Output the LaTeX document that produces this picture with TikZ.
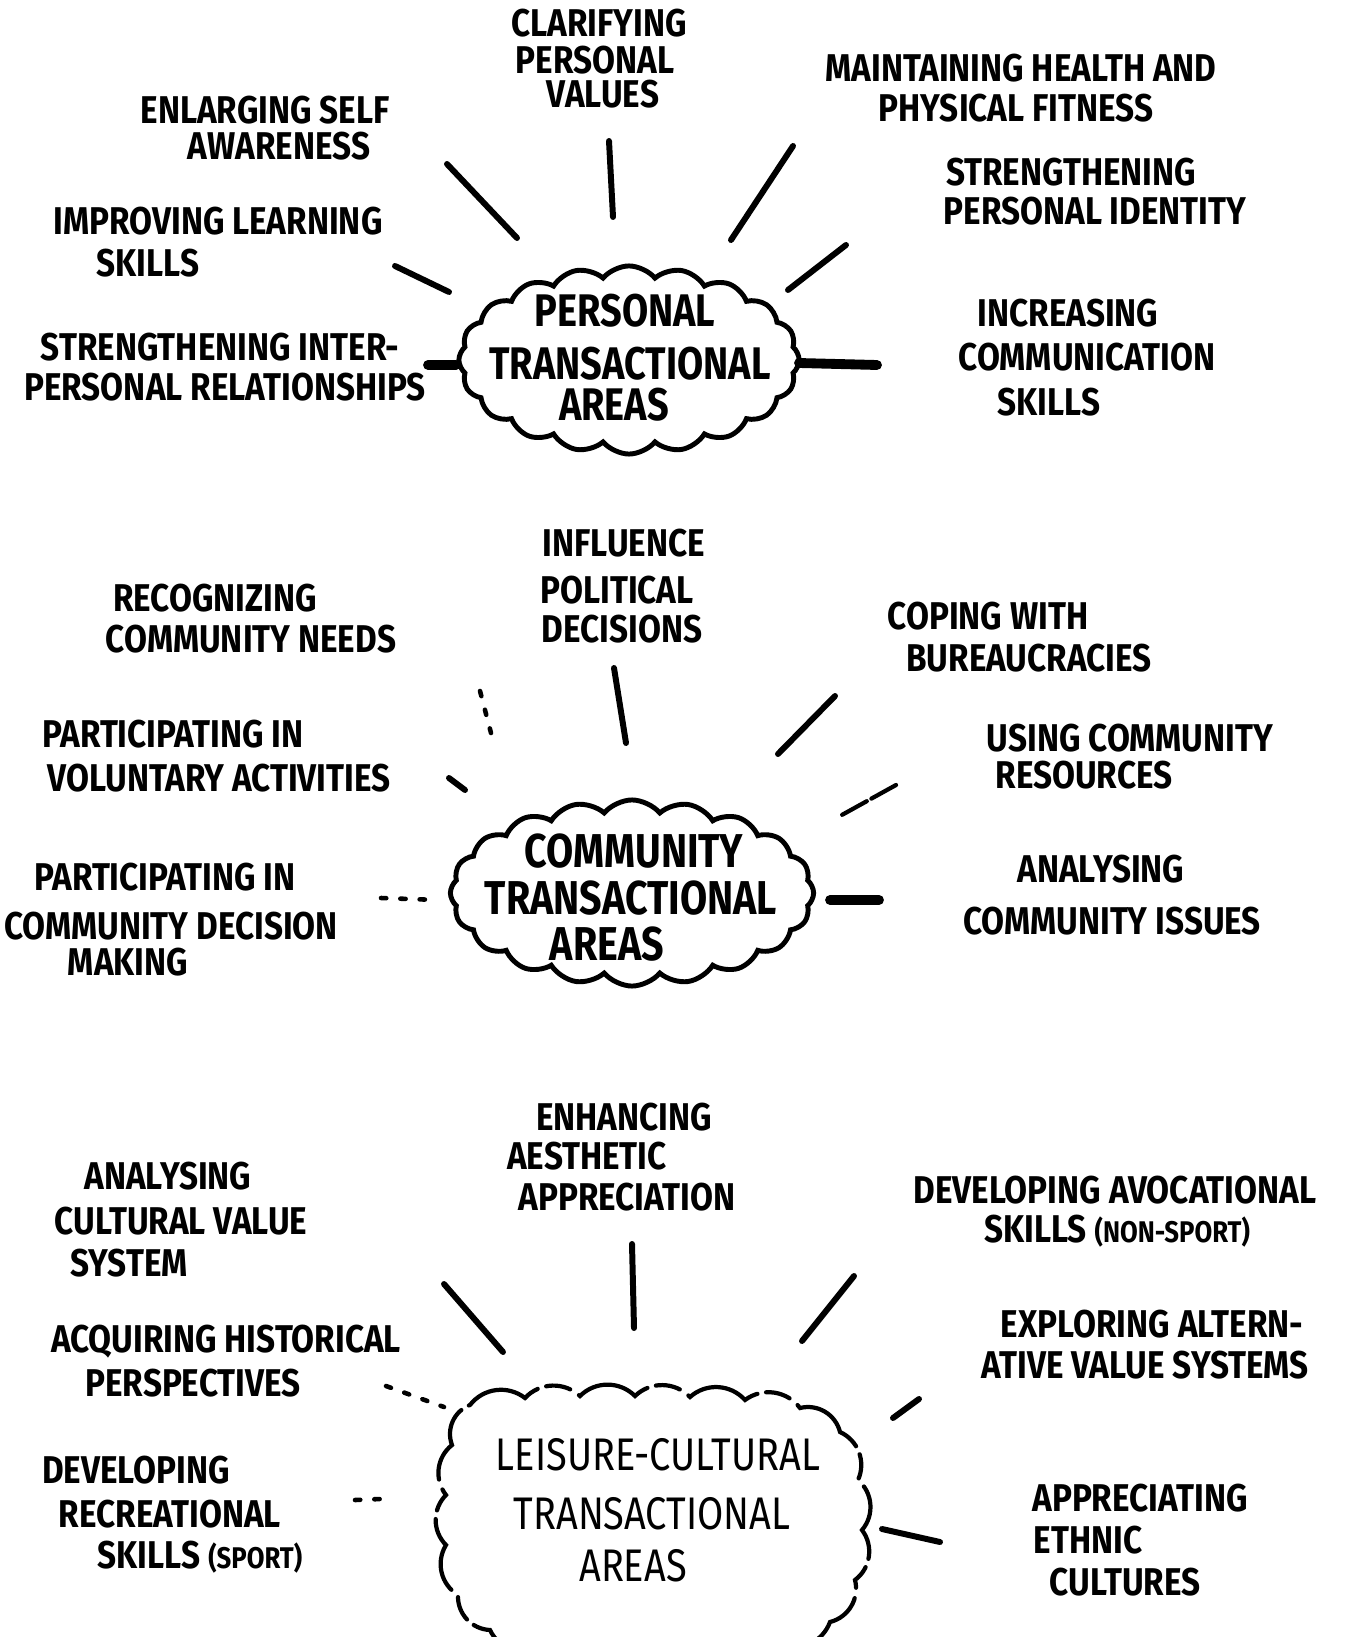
\documentclass[tikz,border=0pt]{standalone}
\usepackage{fontspec}
\setmainfont{Fira Sans}
\newfontfamily\hand[FakeStretch=0.86]{Fira Sans}
\newfontfamily\handc[FakeStretch=0.83]{Fira Sans}
\usetikzlibrary{shapes.symbols}
\begin{document}
\begin{tikzpicture}[x=0.01cm,y=-0.01cm,
 lbl/.style={inner sep=0pt, text height=7.5pt, text depth=0pt, font=\hand\bfseries\fontsize{11}{13}\selectfont},
 ctext/.style={inner sep=0pt, text height=9pt, text depth=0pt, font=\handc\bfseries\fontsize{13}{15}\selectfont},
 ctextb/.style={inner sep=0pt, text height=9.2pt, text depth=0pt, font=\handc\bfseries\fontsize{13.5}{15}\selectfont},
 cthin/.style={inner sep=0pt, text height=9pt, text depth=0pt, font=\handc\fontsize{13}{15}\selectfont},
 puff/.style={cloud, cloud puffs=20, cloud puff arc=100, cloud ignores aspect, draw, line width=1.4pt, inner sep=0pt},
 brokencloud/.style={line width=1.2pt, line cap=round, dash pattern=on 22pt off 2.5pt on 7pt off 3pt},
 bump/.style={bend left=45},
 ray/.style={line width=1.7pt, line cap=round},
 heavy/.style={line width=2.8pt, line cap=round},
 faint/.style={line width=1.3pt, line cap=round, dash pattern=on 1.5pt off 4pt}]
\useasboundingbox (0,0) rectangle (1355,1637);

% ---------- clouds ----------
\node[puff, minimum width=3.40cm, minimum height=1.88cm] (cl1) at (629,360) {};
\node[puff, minimum width=3.63cm, minimum height=1.86cm] (cl2) at (632,893) {};
\coordinate (cl3) at (655,1525);
\draw[brokencloud] (470,1405) to[bump] (525,1398) to[bump] (580,1396) to[bump] (635,1396)
  to[bump] (690,1397) to[bump] (745,1400) to[bump] (800,1408) to[bump] (840,1432)
  to[bump] (858,1480) to[bump] (862,1530) to[bump] (855,1580) to[bump] (830,1622)
  to[bump] (780,1645) to[bump] (720,1655) to[bump] (660,1658) to[bump] (600,1655)
  to[bump] (540,1648) to[bump] (490,1630) to[bump] (458,1595) to[bump] (446,1545)
  to[bump] (446,1495) to[bump] (452,1445) to[bump] (470,1405);

\node[ctext] (t1a) at (625,311) {PERSONAL};
\node[ctext] (t1b) at (630,364) {TRANSACTIONAL};
\node[ctext] (t1c) at (614,405) {AREAS};

\node[ctextb] (t2a) at (634,851) {COMMUNITY};
\node[ctextb] (t2b) at (631,898) {TRANSACTIONAL};
\node[ctextb] (t2c) at (607,944) {AREAS};

\node[cthin] (t3a) at (658,1455) {LEISURE-CULTURAL};
\node[cthin] (t3b) at (652,1514) {TRANSACTIONAL};
\node[cthin] (t3c) at (633,1566) {AREAS};

% ---------- personal labels ----------
\node[lbl] (p1a) at (599,23) {CLARIFYING};
\node[lbl] (p1b) at (595,60) {PERSONAL};
\node[lbl] (p1c) at (603,94) {VALUES};
\node[lbl] (p2a) at (265,110) {ENLARGING SELF};
\node[lbl] (p2b) at (279,146) {AWARENESS};
\node[lbl] (p3a) at (1021,68) {MAINTAINING HEALTH AND};
\node[lbl] (p3b) at (1016,108) {PHYSICAL FITNESS};
\node[lbl] (p4a) at (1071,172) {STRENGTHENING};
\node[lbl] (p4b) at (1095,211) {PERSONAL IDENTITY};
\node[lbl] (p5a) at (218,221) {IMPROVING LEARNING};
\node[lbl] (p5b) at (148,263) {SKILLS};
\node[lbl] (p6a) at (220,347) {STRENGTHENING INTER-};
\node[lbl] (p6b) at (225,387) {PERSONAL RELATIONSHIPS};
\node[lbl] (p7a) at (1068,313) {INCREASING};
\node[lbl] (p7b) at (1087,357) {COMMUNICATION};
\node[lbl] (p7c) at (1049,402) {SKILLS};

% ---------- community labels ----------
\node[lbl] (c1a) at (624,543) {INFLUENCE};
\node[lbl] (c1b) at (617,590) {POLITICAL};
\node[lbl] (c1c) at (622,629) {DECISIONS};
\node[lbl] (c2a) at (215,598) {RECOGNIZING};
\node[lbl] (c2b) at (251,639) {COMMUNITY NEEDS};
\node[lbl] (c3a) at (173,734) {PARTICIPATING IN};
\node[lbl] (c3b) at (219,778) {VOLUNTARY ACTIVITIES};
\node[lbl] (c4a) at (165,877) {PARTICIPATING IN};
\node[lbl] (c4b) at (171,926) {COMMUNITY DECISION};
\node[lbl] (c4c) at (128,962) {MAKING};
\node[lbl] (c5a) at (988,616) {COPING WITH};
\node[lbl] (c5b) at (1029,658) {BUREAUCRACIES};
\node[lbl] (c6a) at (1130,738) {USING COMMUNITY};
\node[lbl] (c6b) at (1084,775) {RESOURCES};
\node[lbl] (c7a) at (1101,869) {ANALYSING};
\node[lbl] (c7b) at (1112,921) {COMMUNITY ISSUES};

% ---------- leisure-cultural labels ----------
\node[lbl] (l1a) at (624,1117) {ENHANCING};
\node[lbl] (l1b) at (587,1156) {AESTHETIC};
\node[lbl] (l1c) at (627,1197) {APPRECIATION};
\node[lbl] (l2a) at (168,1176) {ANALYSING};
\node[lbl] (l2b) at (181,1221) {CULTURAL VALUE};
\node[lbl] (l2c) at (129,1263) {SYSTEM};
\node[lbl] (l3a) at (226,1339) {ACQUIRING HISTORICAL};
\node[lbl] (l3b) at (193,1383) {PERSPECTIVES};
\node[lbl] (l4a) at (136,1470) {DEVELOPING};
\node[lbl] (l4b) at (170,1514) {RECREATIONAL};
\node[lbl] (l4c) at (200,1555) {SKILLS {\fontsize{8.5}{10}\selectfont(SPORT)}};
\node[lbl] (l5a) at (1115,1190) {DEVELOPING AVOCATIONAL};
\node[lbl] (l5b) at (1117,1229) {SKILLS {\fontsize{8.5}{10}\selectfont(NON-SPORT)}};
\node[lbl] (l6a) at (1152,1324) {EXPLORING ALTERN-};
\node[lbl] (l6b) at (1145,1365) {ATIVE VALUE SYSTEMS};
\node[lbl] (l7a) at (1140,1498) {APPRECIATING};
\node[lbl] (l7b) at (1088,1540) {ETHNIC};
\node[lbl] (l7c) at (1125,1582) {CULTURES};

% ---------- connector end points ----------
\coordinate (r1s) at (447,164);  \coordinate (r1e) at (517,238);
\coordinate (r2s) at (609,141);  \coordinate (r2e) at (613,217);
\coordinate (r3s) at (793,146);  \coordinate (r3e) at (731,240);
\coordinate (r4s) at (846,245);  \coordinate (r4e) at (788,290);
\coordinate (r5s) at (395,266);  \coordinate (r5e) at (449,292);
\coordinate (r6s) at (428,365);  \coordinate (r6e) at (456,365);
\coordinate (r7s) at (877,365);  \coordinate (r7e) at (799,363);

\coordinate (m1s) at (614,668);  \coordinate (m1e) at (626,743);
\coordinate (m2s) at (480,691);  \coordinate (m2e) at (491,733);
\coordinate (m3s) at (449,778);  \coordinate (m3e) at (465,790);
\coordinate (m4s) at (835,696);  \coordinate (m4e) at (778,754);
\coordinate (m5s) at (896,785);  \coordinate (m5e) at (840,816);
\coordinate (m6s) at (381,898);  \coordinate (m6e) at (438,900);
\coordinate (m7s) at (879,900);  \coordinate (m7e) at (830,900);

\coordinate (b1s) at (444,1284); \coordinate (b1e) at (503,1352);
\coordinate (b2s) at (632,1244); \coordinate (b2e) at (634,1328);
\coordinate (b3s) at (854,1276); \coordinate (b3e) at (802,1341);
\coordinate (b4s) at (919,1399); \coordinate (b4e) at (893,1418);
\coordinate (b5s) at (386,1386); \coordinate (b5e) at (444,1407);
\coordinate (b6s) at (355,1500); \coordinate (b6e) at (381,1499);
\coordinate (b7s) at (940,1542); \coordinate (b7e) at (882,1529);

% ---------- connectors ----------
\draw[ray] (r1s) -- (r1e);
\draw[ray] (r2s) -- (r2e);
\draw[ray] (r3s) -- (r3e);
\draw[ray] (r4s) -- (r4e);
\draw[ray] (r5s) -- (r5e);
\draw[heavy] (r6s) -- (r6e);
\draw[heavy] (r7s) -- (r7e);

\draw[ray] (m1s) -- (m1e);
\draw[faint] (m2s) -- (m2e);
\draw[ray] (m3s) -- (m3e);
\draw[ray] (m4s) -- (m4e);
\draw[ray, line width=1.2pt, dash pattern=on 8pt off 1.5pt] (m5s) -- (m5e);
\draw[faint] (m6s) -- (m6e);
\draw[heavy] (m7s) -- (m7e);

\draw[ray] (b1s) -- (b1e);
\draw[ray] (b2s) -- (b2e);
\draw[ray] (b3s) -- (b3e);
\draw[ray] (b4s) -- (b4e);
\draw[faint] (b5s) -- (b5e);
\draw[faint] (b6s) -- (b6e);
\draw[ray] (b7s) -- (b7e);
\end{tikzpicture}
\end{document}
